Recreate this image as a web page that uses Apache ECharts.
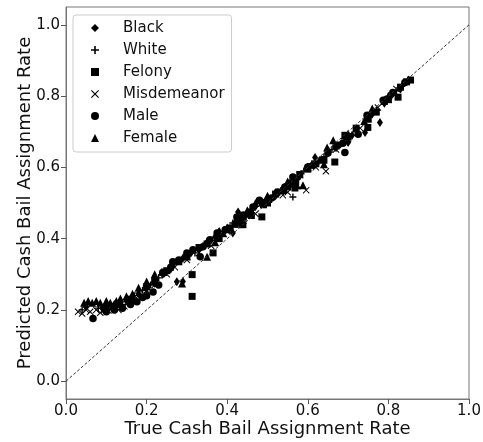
<!DOCTYPE html>
<html>
<head>
<meta charset="utf-8">
<script src="https://cdn.jsdelivr.net/npm/echarts@6/dist/echarts.min.js"></script>
<style>html,body{margin:0;padding:0;background:#fff}#c{width:483px;height:442px}</style>
</head>
<body>
<div id="c"></div>
<script>
const seriesNames = ['Black', 'White', 'Felony', 'Misdemeanor', 'Male', 'Female'];
const tickValues = [0, 0.2, 0.4, 0.6, 0.8, 1.0];
const diagLine = [[0, 0], [1, 1]];

const blackPts = [[0.05,0.21],[0.09,0.205],[0.12,0.215],[0.15,0.225],[0.18,0.245],[0.2,0.26],[0.22,0.275],[0.24,0.3],[0.26,0.315],[0.275,0.279],[0.29,0.28],[0.29,0.345],[0.31,0.36],[0.33,0.37],[0.35,0.39],[0.37,0.405],[0.38,0.42],[0.4,0.43],[0.414,0.416],[0.427,0.475],[0.43,0.45],[0.45,0.47],[0.47,0.49],[0.49,0.5],[0.5,0.515],[0.52,0.52],[0.54,0.54],[0.56,0.555],[0.58,0.575],[0.6,0.6],[0.618,0.628],[0.63,0.62],[0.65,0.64],[0.67,0.655],[0.7,0.67],[0.71,0.69],[0.742,0.698],[0.76,0.75],[0.779,0.726],[0.79,0.78],[0.81,0.805],[0.83,0.82],[0.85,0.845]];
const whitePts = [[0.04,0.2],[0.08,0.205],[0.11,0.21],[0.14,0.215],[0.17,0.24],[0.19,0.255],[0.21,0.27],[0.23,0.29],[0.25,0.305],[0.27,0.33],[0.3,0.355],[0.32,0.36],[0.34,0.38],[0.36,0.395],[0.39,0.42],[0.414,0.444],[0.43,0.44],[0.46,0.48],[0.48,0.5],[0.51,0.51],[0.53,0.53],[0.55,0.55],[0.563,0.517],[0.59,0.59],[0.61,0.61],[0.64,0.63],[0.66,0.65],[0.69,0.68],[0.72,0.7],[0.75,0.74],[0.77,0.76],[0.79,0.79],[0.8,0.8],[0.82,0.815],[0.84,0.835]];
const felonyPts = [[0.1,0.205],[0.13,0.215],[0.16,0.23],[0.2,0.265],[0.22,0.28],[0.25,0.31],[0.28,0.335],[0.3,0.35],[0.313,0.299],[0.313,0.238],[0.33,0.375],[0.35,0.385],[0.365,0.36],[0.38,0.4],[0.4,0.425],[0.42,0.44],[0.439,0.439],[0.44,0.46],[0.46,0.465],[0.486,0.461],[0.49,0.495],[0.5,0.5],[0.52,0.525],[0.54,0.535],[0.55,0.545],[0.568,0.542],[0.57,0.56],[0.58,0.58],[0.6,0.595],[0.62,0.61],[0.64,0.62],[0.667,0.615],[0.67,0.66],[0.692,0.69],[0.7,0.685],[0.72,0.71],[0.749,0.712],[0.75,0.735],[0.77,0.755],[0.79,0.785],[0.8,0.79],[0.824,0.797],[0.83,0.825],[0.845,0.84],[0.855,0.845]];
const misdemeanorPts = [[0.03,0.195],[0.04,0.19],[0.05,0.2],[0.06,0.195],[0.075,0.2],[0.085,0.192],[0.095,0.2],[0.105,0.198],[0.115,0.205],[0.13,0.2],[0.145,0.21],[0.16,0.225],[0.18,0.24],[0.2,0.255],[0.22,0.27],[0.25,0.3],[0.27,0.32],[0.3,0.34],[0.33,0.36],[0.36,0.38],[0.4,0.42],[0.44,0.45],[0.47,0.47],[0.5,0.5],[0.538,0.522],[0.55,0.53],[0.581,0.578],[0.596,0.536],[0.62,0.6],[0.645,0.589],[0.67,0.65],[0.7,0.68],[0.73,0.71],[0.774,0.768],[0.8,0.79],[0.82,0.82]];
const malePts = [[0.067,0.176],[0.1,0.195],[0.12,0.2],[0.14,0.205],[0.16,0.215],[0.176,0.223],[0.19,0.235],[0.2,0.24],[0.216,0.25],[0.23,0.27],[0.24,0.305],[0.26,0.32],[0.265,0.335],[0.28,0.34],[0.3,0.36],[0.315,0.369],[0.333,0.349],[0.34,0.377],[0.357,0.397],[0.375,0.416],[0.395,0.425],[0.407,0.43],[0.424,0.461],[0.44,0.466],[0.457,0.475],[0.464,0.489],[0.48,0.508],[0.5,0.505],[0.51,0.514],[0.525,0.531],[0.543,0.545],[0.556,0.556],[0.563,0.573],[0.6,0.601],[0.613,0.606],[0.65,0.64],[0.675,0.662],[0.687,0.668],[0.692,0.642],[0.725,0.693],[0.747,0.746],[0.787,0.788],[0.811,0.81],[0.841,0.838]];
const femalePts = [[0.045,0.22],[0.055,0.225],[0.065,0.22],[0.075,0.225],[0.085,0.22],[0.1,0.225],[0.11,0.22],[0.125,0.225],[0.135,0.232],[0.15,0.238],[0.165,0.245],[0.18,0.262],[0.2,0.28],[0.22,0.3],[0.238,0.307],[0.258,0.321],[0.288,0.274],[0.3,0.35],[0.35,0.349],[0.37,0.39],[0.39,0.415],[0.42,0.45],[0.45,0.48],[0.47,0.5],[0.5,0.52],[0.52,0.53],[0.55,0.56],[0.573,0.55],[0.588,0.55],[0.6,0.6],[0.64,0.609],[0.648,0.656],[0.663,0.676],[0.7,0.695],[0.74,0.73],[0.76,0.765],[0.8,0.8]];

const PLUS = 'path://M4,0H6V4H10V6H6V10H4V6H0V4H4Z';
const XMARK = 'path://M0,1L1,0L5,4L9,0L10,1L6,5L10,9L9,10L5,6L1,10L0,9L4,5Z';

const dataSets = [blackPts, whitePts, felonyPts, misdemeanorPts, malePts, femalePts];
const symbols = ['diamond', PLUS, 'rect', XMARK, 'circle', 'triangle'];
const sizes = [[6, 9], 7, 7, 7, 7.5, 8];
const legendSizes = [[5, 8], [6, 6], [6, 6], [6, 6], [7, 7], [7, 7]];

const font = 'DejaVu Sans';
const chart = echarts.init(document.getElementById('c'), null, {renderer: 'canvas'});
const series = seriesNames.map((n, i) => ({
  name: n, type: 'scatter', data: dataSets[i], symbol: symbols[i], symbolSize: sizes[i],
  itemStyle: {color: '#000', opacity: 1}, z: 2 + i
}));
series.push({
  name: 'diag', type: 'line', data: diagLine, symbol: 'none', z: 10,
  lineStyle: {color: '#333', width: 1, type: [3, 2]}, silent: true
});

chart.setOption({
  animation: false,
  backgroundColor: '#fff',
  grid: {left: 66, right: 14, top: 7, bottom: 43, show: true, borderColor: '#777', borderWidth: 1, outerBoundsMode: 'none', containLabel: false},
  legend: {
    data: seriesNames, orient: 'vertical', left: 73, top: 15,
    padding: [5, 7, 6, 18], itemWidth: 8, itemHeight: 8, itemGap: 6,
    borderColor: '#ccc', borderWidth: 1, borderRadius: 3, backgroundColor: 'rgba(255,255,255,0.8)',
    textStyle: {fontFamily: font, fontSize: 15, color: '#111', lineHeight: 16, padding: [0, 0, 0, 19]},
    itemStyle: {color: '#000'}
  },
  xAxis: {
    type: 'value', min: 0, max: 1, interval: 0.2,
    name: 'True Cash Bail Assignment Rate', nameLocation: 'middle', nameGap: 21, nameMoveOverlap: false,
    nameTextStyle: {fontFamily: font, fontSize: 18, color: '#111', verticalAlign: 'top'},
    axisLine: {show: true, onZero: false, lineStyle: {color: '#777'}},
    axisTick: {show: true, length: 5, lineStyle: {color: '#555'}},
    axisLabel: {fontFamily: font, fontSize: 15, color: '#111', margin: 5, formatter: v => v.toFixed(1)},
    splitLine: {show: false}
  },
  yAxis: {
    type: 'value', min: -0.05, max: 1.05,
    name: 'Predicted Cash Bail Assignment Rate', nameLocation: 'middle', nameGap: 32, nameMoveOverlap: false,
    nameTextStyle: {fontFamily: font, fontSize: 18, color: '#111'},
    axisLine: {show: true, onZero: false, lineStyle: {color: '#777'}},
    axisTick: {show: true, length: 5, lineStyle: {color: '#555'}, customValues: tickValues},
    axisLabel: {fontFamily: font, fontSize: 15, color: '#111', margin: 6, customValues: tickValues, formatter: v => v.toFixed(1)},
    splitLine: {show: false}
  },
  series: series
});
</script>
</body>
</html>
